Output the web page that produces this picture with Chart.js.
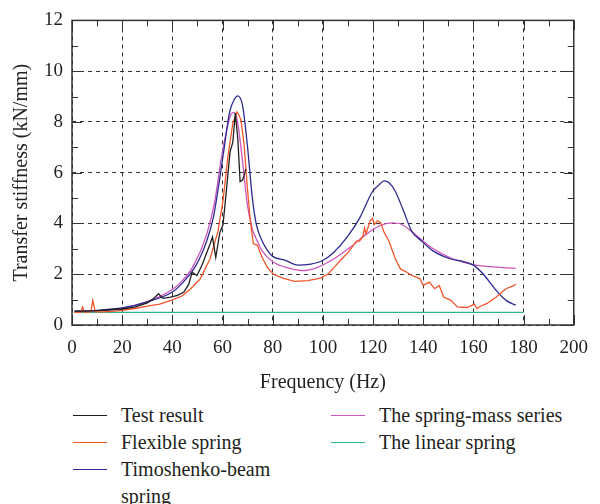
<!DOCTYPE html>
<html>
<head>
<meta charset="utf-8">
<script src="https://cdn.jsdelivr.net/npm/chart.js@4/dist/chart.umd.min.js"></script>
<style>
  body { margin: 0; background: #fff; }
  #wrap { position: relative; width: 600px; height: 504px; }
  #chartBox { position: absolute; left: 0; top: 0; width: 600px; height: 400px; }
  .leg { position: absolute; font-family: 'Liberation Serif', 'Times New Roman', 'DejaVu Serif', serif; font-size: 20px; color: #231f20; line-height: 27px; }
  .leg .swatch { position: absolute; left: 0; top: 13px; height: 0; border-top: 1.5px solid; width: 34px; }
  .leg .txt { position: absolute; left: 48px; }
</style>
</head>
<body>
<div id="wrap">
  <div id="chartBox"><canvas id="myChart" width="600" height="400"></canvas></div>
  <div class="leg" style="left:73px;top:402px"><div class="swatch" style="border-color:#1f1f1f"></div><div class="txt" style="width:170px">Test result</div></div>
  <div class="leg" style="left:73px;top:429px"><div class="swatch" style="border-color:#f1552a"></div><div class="txt" style="width:170px">Flexible spring</div></div>
  <div class="leg" style="left:73px;top:456px"><div class="swatch" style="border-color:#2d2a8f"></div><div class="txt" style="width:170px">Timoshenko-beam spring</div></div>
  <div class="leg" style="left:331px;top:402px"><div class="swatch" style="border-color:#cc55bb"></div><div class="txt" style="width:230px">The spring-mass series</div></div>
  <div class="leg" style="left:331px;top:429px"><div class="swatch" style="border-color:#2db38b"></div><div class="txt" style="width:230px">The linear spring</div></div>
</div>
<script>
// axis ticks
var xTicks = [0, 20, 40, 60, 80, 100, 120, 140, 160, 180, 200];
var yTicks = [0, 2, 4, 6, 8, 10, 12];

// Test result
var testFreq = [1, 5, 10, 15, 20, 25, 28, 30, 32, 34.5, 36.2, 39.3, 42, 44.6, 46.5, 47.9, 49.8, 51.8, 55, 56, 57.3, 58.9, 60.2, 61.5, 63, 64.1, 65.1, 66.1, 67, 68, 69.3];
var testVals = [0.55, 0.55, 0.57, 0.6, 0.63, 0.7, 0.8, 0.87, 1.0, 1.23, 1.05, 1.1, 1.17, 1.3, 1.6, 2.08, 1.95, 2.35, 3.18, 3.47, 2.66, 3.63, 3.96, 5.26, 6.82, 7.2, 8.35, 7.33, 5.65, 5.71, 6.14];

// Flexible spring
var flexFreq = [1, 3.5, 4.2, 5, 7.5, 8.3, 9.3, 12, 16, 20, 25, 30, 35, 40, 44, 47, 51, 55, 58.2, 60.2, 62.1, 64.1, 65.8, 67.3, 68.6, 69.9, 71.2, 72.3, 73.8, 75.8, 78, 80.3, 84, 88.7, 94, 99.1, 102, 104.3, 107, 110.1, 113.4, 114.7, 116, 116.6, 117.2, 118.8, 119.8, 120.5, 121.8, 123.1, 124.4, 126.3, 128.9, 130.9, 133.5, 135.4, 137, 138.7, 140, 142.5, 144.5, 146.4, 148.1, 151, 153.6, 157.5, 160.4, 161.4, 163, 165.3, 169.1, 173, 176.3, 176.9];
var flexVals = [0.5, 0.5, 0.7, 0.5, 0.52, 0.97, 0.52, 0.52, 0.54, 0.58, 0.65, 0.74, 0.82, 0.99, 1.15, 1.4, 1.8, 2.6, 3.7, 4.9, 6.6, 7.95, 8.4, 8.1, 7.1, 5.4, 4.0, 3.2, 3.15, 2.66, 2.25, 2.0, 1.85, 1.72, 1.75, 1.85, 2.0, 2.25, 2.55, 2.86, 3.3, 3.31, 3.5, 3.83, 3.6, 4.09, 4.2, 3.96, 4.1, 4.02, 3.65, 3.31, 2.6, 2.21, 2.08, 1.95, 1.9, 1.82, 1.56, 1.69, 1.43, 1.56, 1.1, 0.97, 0.71, 0.69, 0.82, 0.65, 0.75, 0.84, 1.1, 1.43, 1.56, 1.62];

// Timoshenko-beam spring
var timoFreq = [1, 10, 20, 30, 40, 44, 48.5, 51, 53.7, 56.3, 58.9, 60.8, 62.8, 64.7, 66.1, 68, 69.9, 71.9, 73.5, 75.8, 79.7, 84.8, 90, 95.2, 99.7, 104.3, 109.5, 114.7, 119.8, 122.4, 124.4, 126.3, 128.9, 132.2, 135.4, 139.3, 143.9, 151, 156.1, 160, 163.9, 169.1, 173, 176.9];
var timoVals = [0.55, 0.58, 0.67, 0.91, 1.3, 1.65, 2.2, 2.65, 3.31, 4.22, 5.78, 7.08, 8.38, 8.89, 9.03, 8.64, 7.08, 5.0, 3.95, 3.31, 2.73, 2.56, 2.36, 2.4, 2.53, 2.86, 3.44, 4.22, 5.26, 5.52, 5.68, 5.61, 5.26, 4.48, 3.7, 3.31, 2.92, 2.6, 2.5, 2.36, 2.01, 1.36, 0.97, 0.78];

// The spring-mass series
var smFreq = [1, 10, 20, 30, 40, 44, 48.5, 53.7, 56.9, 59.5, 61.5, 63.4, 64.7, 66, 68, 69.9, 71.9, 73.2, 75.8, 80.3, 86.1, 92, 97.8, 104.3, 110.8, 117.2, 122.4, 127.6, 131.5, 136.7, 143.2, 151, 158.8, 166.5, 176.9];
var smVals = [0.52, 0.56, 0.65, 0.92, 1.4, 1.75, 2.35, 3.57, 4.87, 6.56, 7.6, 8.31, 8.38, 7.99, 6.43, 4.74, 3.77, 3.45, 2.92, 2.47, 2.25, 2.14, 2.27, 2.6, 3.05, 3.57, 3.9, 4.02, 3.96, 3.57, 3.05, 2.64, 2.4, 2.3, 2.23];

// The linear spring
var linFreq = [1, 180];
var linVals = [0.5, 0.5];

var seriesNames = ["Test result", "Flexible spring", "Timoshenko-beam spring", "The spring-mass series", "The linear spring"];
var seriesColors = ["#1f1f1f", "#f1552a", "#2d2a8f", "#cc55bb", "#2db38b"];

Chart.defaults.font.family = "'Liberation Serif', 'Times New Roman', 'DejaVu Serif', serif";

function toPoints(xs, ys) {
    return xs.map(function (x, i) { return {x: x, y: ys[i]}; });
}

// box round the plot with inner ticks on every side
var boxTicks = {
    id: 'boxTicks',
    afterDatasetsDraw: function (chart) {
        var c = chart.ctx, a = chart.chartArea;
        var xs = chart.scales.x, ys = chart.scales.y;
        c.save();
        c.strokeStyle = '#333';
        c.lineWidth = 1;
        c.beginPath();
        for (var v = 0; v <= 200; v += 10) {
            var px = Math.round(xs.getPixelForValue(v)) + 0.5;
            var len = v % 20 === 0 ? 10 : 6;
            c.moveTo(px, a.bottom); c.lineTo(px, a.bottom - len);
            c.moveTo(px, a.top); c.lineTo(px, a.top + len);
        }
        for (var w = 0; w <= 12; w += 1) {
            var py = Math.round(ys.getPixelForValue(w)) + 0.5;
            var l2 = w % 2 === 0 ? 10 : 6;
            c.moveTo(a.left, py); c.lineTo(a.left + l2, py);
            c.moveTo(a.right, py); c.lineTo(a.right - l2, py);
        }
        c.stroke();
        c.lineWidth = 1.5;
        c.strokeRect(a.left, a.top, a.right - a.left, a.bottom - a.top);
        c.restore();
    }
};

var allFreq = [testFreq, flexFreq, timoFreq, smFreq, linFreq];
var allVals = [testVals, flexVals, timoVals, smVals, linVals];

var datasets = seriesNames.map(function (name, i) {
    return {
        label: name,
        data: toPoints(allFreq[i], allVals[i]),
        borderColor: seriesColors[i],
        borderWidth: 1.3,
        pointRadius: 0,
        fill: false,
        tension: 0,
        cubicInterpolationMode: (i === 2 || i === 3) ? 'monotone' : 'default'
    };
});

var chartCtx = document.getElementById('myChart').getContext('2d');
new Chart(chartCtx, {
    type: 'line',
    data: {datasets: datasets},
    options: {
        responsive: false,
        animation: false,
        layout: {padding: {top: 17, right: 14, bottom: 0, left: 0}},
        plugins: {legend: {display: false}, tooltip: {enabled: false}},
        scales: {
            x: {
                type: 'linear',
                min: 0, max: 200,
                afterBuildTicks: function (scale) {
                    scale.ticks = xTicks.map(function (v) { return {value: v}; });
                },
                afterFit: function (scale) { scale.height = 75; },
                ticks: {font: {size: 19}, color: '#231f20', padding: 12, maxRotation: 0, autoSkip: false},
                grid: {color: '#333', lineWidth: 1, drawTicks: false},
                border: {display: false, dash: [4, 4]},
                title: {display: true, text: 'Frequency (Hz)', font: {size: 20}, color: '#231f20', padding: {top: 0, bottom: 5}}
            },
            y: {
                type: 'linear',
                min: 0, max: 12,
                afterBuildTicks: function (scale) {
                    scale.ticks = yTicks.map(function (v) { return {value: v}; });
                },
                afterFit: function (scale) { scale.width = 72; },
                ticks: {font: {size: 19}, color: '#231f20', padding: 9},
                grid: {color: '#333', lineWidth: 1, drawTicks: false},
                border: {display: false, dash: [4, 4]},
                title: {display: true, text: 'Transfer stiffness (kN/mm)', font: {size: 20}, color: '#231f20', padding: {top: 10, bottom: 0}}
            }
        }
    },
    plugins: [boxTicks]
});
</script>
</body>
</html>
